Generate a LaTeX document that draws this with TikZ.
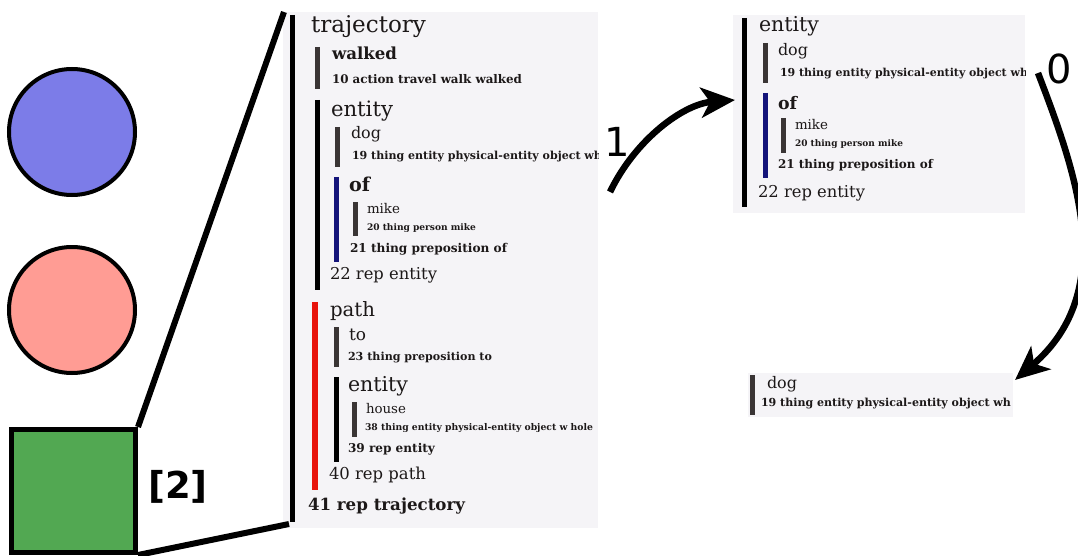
\documentclass[tikz,border=0pt]{standalone}
\usepackage{fontspec}
\usepackage{graphicx}
\setmainfont{DejaVu Serif}
\newfontfamily\lblfont{DejaVu Sans}
\usetikzlibrary{arrows.meta}
\definecolor{txtc}{HTML}{1C1818}
\definecolor{barg}{HTML}{3A3535}
\definecolor{barb}{HTML}{14147A}
\definecolor{barr}{HTML}{E8140C}
\definecolor{panelc}{HTML}{F5F4F7}
\definecolor{bluec}{HTML}{7C7CE8}
\definecolor{redc}{HTML}{FF9C94}
\definecolor{greenc}{HTML}{52A852}
\newcommand\myfs[1]{\fontsize{#1}{#1}\selectfont}
\newcommand\tw[2]{\resizebox{#1pt}{!}{#2}}
\begin{document}
\begin{tikzpicture}[x=1pt,y=-1pt,
  txt/.style={anchor=base west,inner sep=0pt,outer sep=0pt,text=txtc},
  bar/.style={line width=5pt},
  shapeline/.style={line width=6pt},
  arr/.style={line width=6.5pt,-{Stealth[length=34pt,width=30pt,inset=9pt]}},
  lbl/.style={inner sep=0pt,font=\lblfont\myfs{40}},
  lblb/.style={inner sep=0pt,font=\lblfont\bfseries\myfs{37}}]
\useasboundingbox (0,0) rectangle (1078,556);
% left shapes
\node[circle,draw,line width=4pt,fill=bluec,minimum size=126pt,inner sep=0pt] (c1) at (72,132) {};
\node[circle,draw,line width=4pt,fill=redc,minimum size=126pt,inner sep=0pt] (c2) at (72,310) {};
\node[draw,line width=5pt,fill=greenc,minimum width=124pt,minimum height=123pt,inner sep=0pt] (sq) at (73.5,491) {};
\node[lblb] (l2) at (178,487) {[2]};
% panels
\fill[panelc] (283,12) rectangle (598,528);
\fill[panelc] (733,15) rectangle (1025,213);
\fill[panelc] (748,373) rectangle (1013,417);
\coordinate (ptl) at (284,12);
\coordinate (pbl) at (289,524);
\draw[shapeline] (sq.north east) -- (ptl);
\draw[shapeline] (sq.south east) -- (pbl);
% main panel bars
\draw[bar,black] (292.5,15) -- (292.5,522);
\draw[bar,barg] (317.5,47) -- (317.5,89);
\draw[bar,black] (317.5,100) -- (317.5,290);
\draw[bar,barg] (337.5,127) -- (337.5,167);
\draw[bar,barb] (336,177) -- (336,262);
\draw[bar,barg] (355.5,202) -- (355.5,236);
\draw[bar,barr,line width=6pt] (315,302) -- (315,490);
\draw[bar,barg] (336,327) -- (336,367);
\draw[bar,black] (336,377) -- (336,462);
\draw[bar,barg] (354,402) -- (354,437);
% main panel text
\begin{scope}
\clip (283,12) rectangle (598,528);
\node[txt,font=\myfs{22}] (n1) at (311,33) {\tw{115}{trajectory}};
\node[txt,font=\myfs{16.5}\bfseries] (n2) at (332,60) {\tw{65}{walked}};
\node[txt,font=\myfs{11.5}\bfseries] (n3) at (332,84) {\tw{190}{10 action travel walk walked}};
\node[txt,font=\myfs{21}] (n4) at (331,117) {\tw{62}{entity}};
\node[txt,font=\myfs{16}] (n5) at (351,139) {\tw{30}{dog}};
\node[txt,font=\myfs{10}\bfseries] (n6) at (352,160) {\tw{250}{19 thing entity physical-entity object wh}};
\node[txt,font=\myfs{19}\bfseries] (n7) at (349,192) {\tw{21}{of}};
\node[txt,font=\myfs{13.5}] (n8) at (367,213) {\tw{33}{mike}};
\node[txt,font=\myfs{8}\bfseries] (n9) at (367,230) {\tw{109}{20 thing person mike}};
\node[txt,font=\myfs{11}\bfseries] (n10) at (350,252) {\tw{157}{21 thing preposition of}};
\node[txt,font=\myfs{14.5}] (n11) at (330,279) {\tw{107}{22 rep entity}};
\node[txt,font=\myfs{19.5}] (n12) at (330,316) {\tw{45}{path}};
\node[txt,font=\myfs{15}] (n13) at (349,340) {\tw{17}{to}};
\node[txt,font=\myfs{10}\bfseries] (n14) at (348,360) {\tw{144}{23 thing preposition to}};
\node[txt,font=\myfs{20.5}] (n15) at (348,391) {\tw{60}{entity}};
\node[txt,font=\myfs{13.4}] (n16) at (366,413) {\tw{40}{house}};
\node[txt,font=\myfs{8.5}\bfseries] (n17) at (365,430) {\tw{228}{38 thing entity physical-entity object w hole}};
\node[txt,font=\myfs{12.5}\bfseries] (n18) at (348,452) {\tw{87}{39 rep entity}};
\node[txt,font=\myfs{15}] (n19) at (329,479) {\tw{97}{40 rep path}};
\node[txt,font=\myfs{14.5}\bfseries] (n20) at (308,510) {\tw{157}{41 rep trajectory}};
\end{scope}
% top-right panel
\draw[bar,black] (744.5,18) -- (744.5,207);
\draw[bar,barg] (765.5,43) -- (765.5,83);
\draw[bar,barb] (765,93) -- (765,178);
\draw[bar,barg] (783.5,118) -- (783.5,153);
\begin{scope}
\clip (733,15) rectangle (1025,213);
\node[txt,font=\myfs{20.5}] (m1) at (759,32) {\tw{60}{entity}};
\node[txt,font=\myfs{16}] (m2) at (778,56) {\tw{30}{dog}};
\node[txt,font=\myfs{10}\bfseries] (m3) at (780,77) {\tw{248}{19 thing entity physical-entity object wh}};
\node[txt,font=\myfs{17}\bfseries] (m4) at (778,110) {\tw{19}{of}};
\node[txt,font=\myfs{13.5}] (m5) at (795,130) {\tw{33}{mike}};
\node[txt,font=\myfs{8}\bfseries] (m6) at (795,147) {\tw{108}{20 thing person mike}};
\node[txt,font=\myfs{11}\bfseries] (m7) at (778,169) {\tw{155}{21 thing preposition of}};
\node[txt,font=\myfs{14.5}] (m8) at (758,197) {\tw{107}{22 rep entity}};
\end{scope}
% bottom-right panel
\draw[bar,barg] (752.5,375) -- (752.5,415);
\begin{scope}
\clip (748,373) rectangle (1013,417);
\node[txt,font=\myfs{16}] (b1) at (767,388) {\tw{30}{dog}};
\node[txt,font=\myfs{10}\bfseries] (b2) at (761,406) {\tw{250}{19 thing entity physical-entity object wh}};
\end{scope}
% arrows
\coordinate (a1s) at (610,192);
\coordinate (a1e) at (735,100);
\draw[arr] (a1s) .. controls (635,140) and (683,104) .. (a1e);
\node[lbl] (l1) at (617,142) {1};
\coordinate (a0s) at (1038,73);
\coordinate (a0e) at (1015,380);
\draw[arr] (a0s) .. controls (1075,170) and (1120,290) .. (a0e);
\node[lbl] (l0) at (1059,69) {0};
\end{tikzpicture}
\end{document}
